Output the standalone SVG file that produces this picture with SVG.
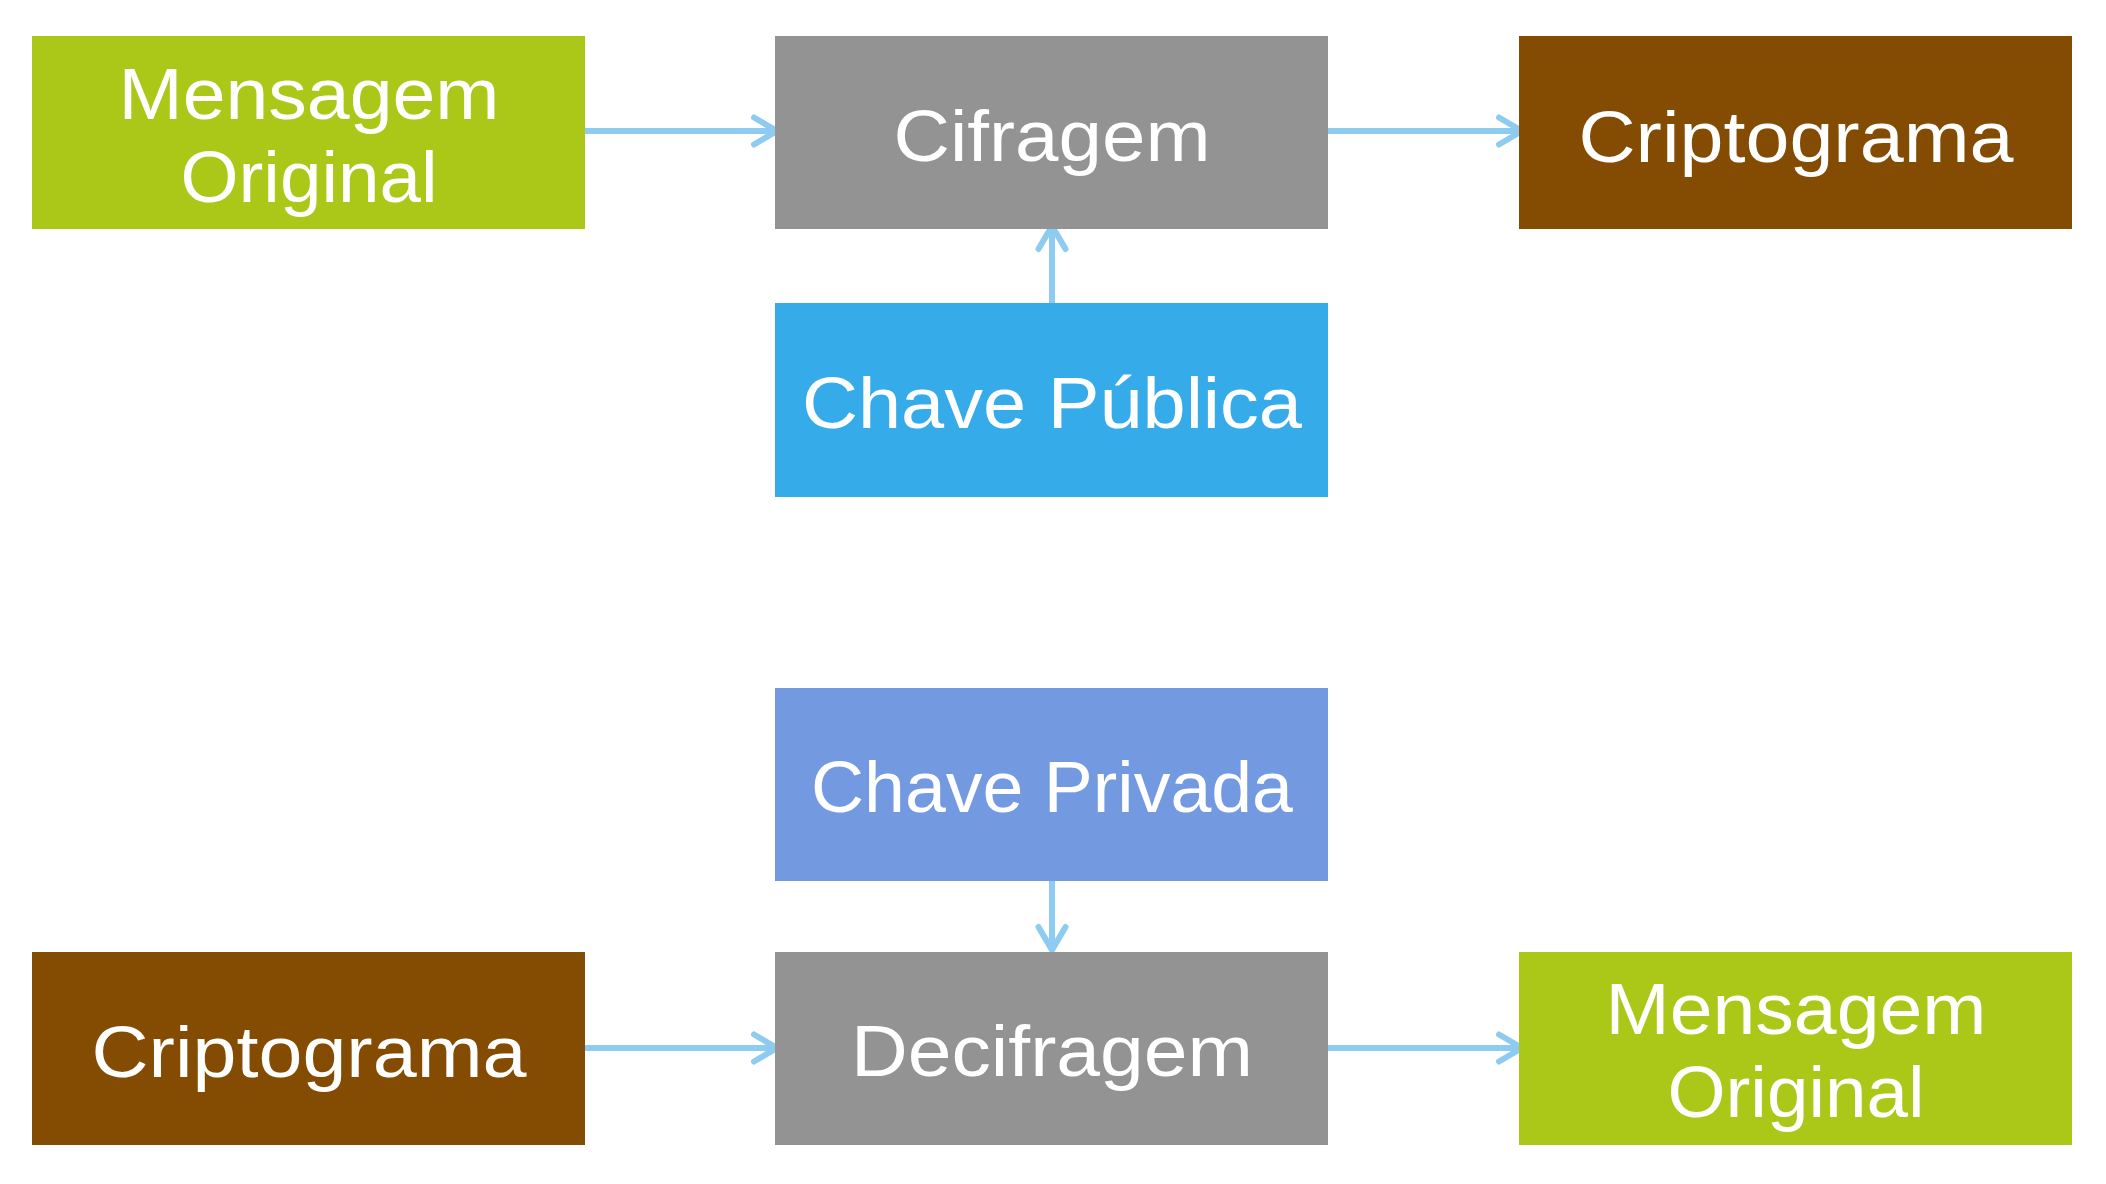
<svg xmlns="http://www.w3.org/2000/svg" width="2106" height="1184" viewBox="0 0 2106 1184">
<style>
.lbl{font-family:"Liberation Sans","Open Sans",Arial,sans-serif;font-size:72px;fill:#ffffff;text-anchor:middle}
.conn{stroke:#8ecbf1;stroke-width:6;fill:none}
.green{fill:#abc818}.gray{fill:#939393}.brown{fill:#844c02}.blue{fill:#36abe9}.violet{fill:#7399e1}
</style>
<defs>
<marker id="ah" markerUnits="userSpaceOnUse" markerWidth="40" markerHeight="40" viewBox="-30 -20 40 40" refX="0" refY="0" orient="auto">
<path d="M-23,-13.5 L0,0 L-23,13.5" fill="none" stroke="#8ecbf1" stroke-width="6" stroke-linecap="round" stroke-linejoin="round"/>
</marker>
</defs>
<rect width="2106" height="1184" fill="#ffffff"/>
<g id="connectors">
<line class="conn" x1="585" y1="131" x2="777" y2="131" marker-end="url(#ah)"/>
<line class="conn" x1="1328" y1="131" x2="1522" y2="131" marker-end="url(#ah)"/>
<line class="conn" x1="1052" y1="303" x2="1052" y2="226" marker-end="url(#ah)"/>
<line class="conn" x1="1052" y1="881" x2="1052" y2="950" marker-end="url(#ah)"/>
<line class="conn" x1="585" y1="1048" x2="777" y2="1048" marker-end="url(#ah)"/>
<line class="conn" x1="1328" y1="1048" x2="1522" y2="1048" marker-end="url(#ah)"/>
</g>
<g id="msg-original-top">
<rect class="green" x="32" y="36" width="553" height="193"/>
<text class="lbl" x="309" y="119" textLength="381" lengthAdjust="spacingAndGlyphs">Mensagem</text>
<text class="lbl" x="309" y="202" textLength="257" lengthAdjust="spacingAndGlyphs">Original</text>
</g>
<g id="cifragem">
<rect class="gray" x="775" y="36" width="553" height="193"/>
<text class="lbl" x="1052" y="161" textLength="317" lengthAdjust="spacingAndGlyphs">Cifragem</text>
</g>
<g id="criptograma-top">
<rect class="brown" x="1519" y="36" width="553" height="193"/>
<text class="lbl" x="1796" y="162" textLength="435" lengthAdjust="spacingAndGlyphs">Criptograma</text>
</g>
<g id="chave-publica">
<rect class="blue" x="775" y="303" width="553" height="194"/>
<text class="lbl" x="1052" y="428" textLength="500" lengthAdjust="spacingAndGlyphs">Chave Pública</text>
</g>
<g id="chave-privada">
<rect class="violet" x="775" y="688" width="553" height="193"/>
<text class="lbl" x="1052" y="812" textLength="482" lengthAdjust="spacingAndGlyphs">Chave Privada</text>
</g>
<g id="criptograma-bottom">
<rect class="brown" x="32" y="952" width="553" height="193"/>
<text class="lbl" x="309" y="1077" textLength="435" lengthAdjust="spacingAndGlyphs">Criptograma</text>
</g>
<g id="decifragem">
<rect class="gray" x="775" y="952" width="553" height="193"/>
<text class="lbl" x="1052" y="1076" textLength="402" lengthAdjust="spacingAndGlyphs">Decifragem</text>
</g>
<g id="msg-original-bottom">
<rect class="green" x="1519" y="952" width="553" height="193"/>
<text class="lbl" x="1796" y="1034" textLength="381" lengthAdjust="spacingAndGlyphs">Mensagem</text>
<text class="lbl" x="1796" y="1117" textLength="257" lengthAdjust="spacingAndGlyphs">Original</text>
</g>
</svg>
